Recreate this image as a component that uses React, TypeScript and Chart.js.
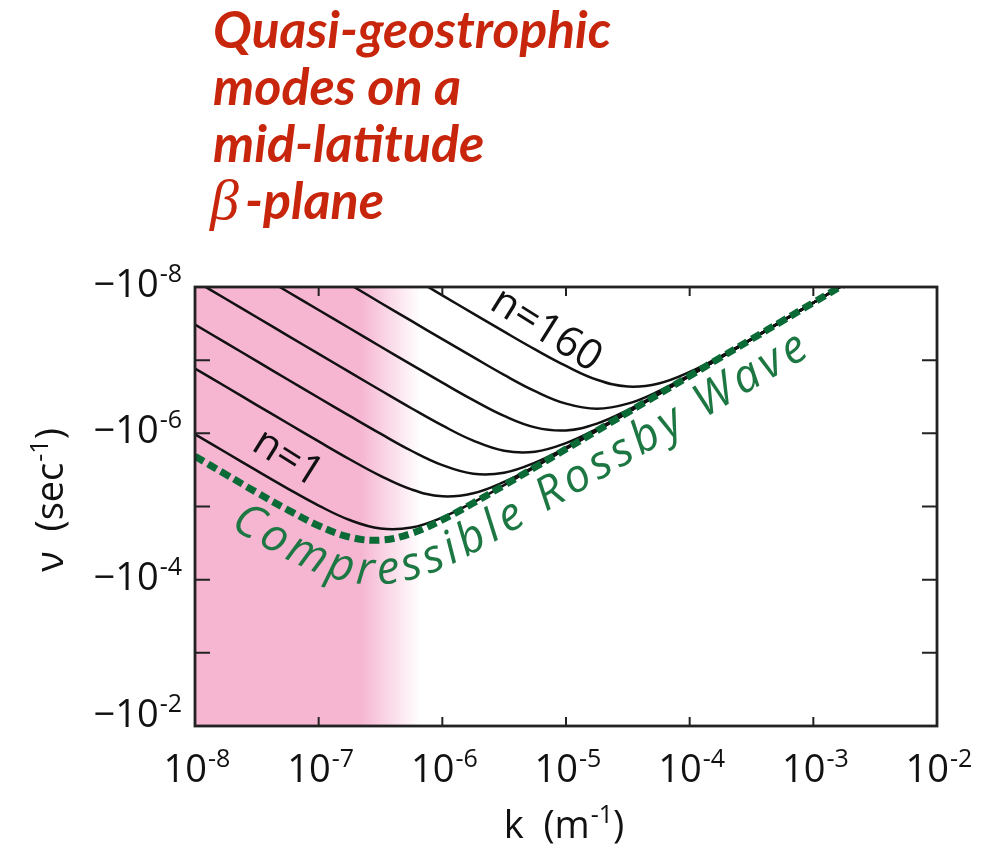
import React, { useEffect, useRef } from "react";
import { Chart, registerables } from "chart.js";

Chart.register(...registerables);

// Wavenumber grid (m^-1), quarter-decade steps
const kGrid = [
  1e-8, 1.78e-8, 3.16e-8, 5.62e-8, 1e-7, 1.78e-7, 3.16e-7, 5.62e-7, 1e-6, 1.78e-6, 3.16e-6, 5.62e-6,
  1e-5, 1.78e-5, 3.16e-5, 5.62e-5, 1e-4, 1.78e-4, 3.16e-4, 5.62e-4, 1e-3, 1.78e-3, 3.16e-3,
];

// |ν| (sec^-1) of the compressible Rossby wave
const rossbyNu = [
  2.06e-6, 3.65e-6, 6.44e-6, 1.11e-5, 1.83e-5, 2.62e-5, 2.88e-5, 2.33e-5, 1.52e-5, 8.97e-6, 5.13e-6, 2.9e-6,
  1.64e-6, 9.2e-7, 5.18e-7, 2.91e-7, 1.64e-7, 9.2e-8, 5.18e-8, 2.91e-8, 1.64e-8, 9.2e-9, 5.18e-9,
];

// |ν| of the quasi-geostrophic modes, n = 1 ... n = 160
const modeN1 = [
  1.03e-6, 1.83e-6, 3.24e-6, 5.69e-6, 9.71e-6, 1.53e-5, 2.0e-5, 1.94e-5, 1.41e-5, 8.77e-6, 5.1e-6, 2.9e-6,
  1.63e-6, 9.2e-7, 5.18e-7, 2.91e-7, 1.64e-7, 9.2e-8, 5.18e-8, 2.91e-8, 1.64e-8, 9.2e-9, 5.18e-9,
];
const mode2 = [
  1.3e-7, 2.31e-7, 4.11e-7, 7.29e-7, 1.29e-6, 2.26e-6, 3.81e-6, 5.84e-6, 7.25e-6, 6.58e-6, 4.6e-6, 2.8e-6,
  1.62e-6, 9.17e-7, 5.17e-7, 2.91e-7, 1.64e-7, 9.2e-8, 5.18e-8, 2.91e-8, 1.64e-8, 9.2e-9, 5.18e-9,
];
const mode3 = [
  3.27e-8, 5.81e-8, 1.03e-7, 1.84e-7, 3.26e-7, 5.77e-7, 1.01e-6, 1.73e-6, 2.72e-6, 3.56e-6, 3.45e-6, 2.51e-6,
  1.56e-6, 9.06e-7, 5.15e-7, 2.9e-7, 1.64e-7, 9.2e-8, 5.18e-8, 2.91e-8, 1.64e-8, 9.2e-9, 5.18e-9,
];
const mode4 = [
  8.2e-9, 1.46e-8, 2.59e-8, 4.61e-8, 8.2e-8, 1.46e-7, 2.58e-7, 4.54e-7, 7.81e-7, 1.26e-6, 1.73e-6, 1.78e-6,
  1.36e-6, 8.66e-7, 5.08e-7, 2.89e-7, 1.63e-7, 9.2e-8, 5.18e-8, 2.91e-8, 1.64e-8, 9.2e-9, 5.18e-9,
];
const mode5 = [
  2.06e-9, 3.66e-9, 6.52e-9, 1.16e-8, 2.06e-8, 3.66e-8, 6.51e-8, 1.15e-7, 2.03e-7, 3.52e-7, 5.79e-7, 8.29e-7,
  9.12e-7, 7.36e-7, 4.8e-7, 2.84e-7, 1.62e-7, 9.18e-8, 5.18e-8, 2.91e-8, 1.64e-8, 9.2e-9, 5.18e-9,
];
const mode6 = [
  5.18e-10, 9.2e-10, 1.64e-9, 2.91e-9, 5.18e-9, 9.2e-9, 1.64e-8, 2.91e-8, 5.16e-8, 9.11e-8, 1.59e-7, 2.65e-7,
  3.93e-7, 4.6e-7, 3.93e-7, 2.65e-7, 1.59e-7, 9.11e-8, 5.16e-8, 2.91e-8, 1.64e-8, 9.2e-9, 5.18e-9,
];
const modeN160 = [
  1.3e-10, 2.31e-10, 4.11e-10, 7.31e-10, 1.3e-9, 2.31e-9, 4.11e-9, 7.31e-9, 1.3e-8, 2.31e-8, 4.08e-8, 7.13e-8,
  1.2e-7, 1.85e-7, 2.29e-7, 2.08e-7, 1.45e-7, 8.85e-8, 5.11e-8, 2.9e-8, 1.64e-8, 9.2e-9, 5.18e-9,
];
const modeSeries = [modeN1, mode2, mode3, mode4, mode5, mode6, modeN160];

// Axis ticks
const kTicks = [1e-8, 1e-7, 1e-6, 1e-5, 1e-4, 1e-3, 1e-2];
const kTickPowers = ["-8", "-7", "-6", "-5", "-4", "-3", "-2"];
const nuTicks = [1e-8, 1e-7, 1e-6, 1e-5, 1e-4, 1e-3, 1e-2];
const nuLabelTicks = [1e-8, 1e-6, 1e-4, 1e-2];
const nuLabelPowers = ["-8", "-6", "-4", "-2"];

// Shaded long-wave band (solid up to the first k, fading out by the second)
const shadeSolidK = 2.2e-7;
const shadeFadeK = 6.6e-7;

const titleLines = ["Quasi-geostrophic", "modes on a", "mid-latitude"];
const RED = "#c8260c";
const GREEN_LINE = "#0b6b37";
const GREEN_TEXT = "#1d7743";
const PINK = [246, 182, 210];

const AXIS_FONT = "38px 'Open Sans'";
const SUP_FONT = "25px 'Open Sans'";

type Run = { text: string; sup?: boolean };

function drawRuns(ctx: CanvasRenderingContext2D, runs: Run[], x: number, y: number, align: "left" | "center" | "right") {
  const widths = runs.map((r) => {
    ctx.font = r.sup ? SUP_FONT : AXIS_FONT;
    return ctx.measureText(r.text).width + (r.sup ? 1 : 0);
  });
  const total = widths.reduce((a, b) => a + b, 0);
  let cx = align === "left" ? x : align === "center" ? x - total / 2 : x - total;
  ctx.textAlign = "left";
  ctx.textBaseline = "alphabetic";
  runs.forEach((r, i) => {
    ctx.font = r.sup ? SUP_FONT : AXIS_FONT;
    ctx.fillText(r.text, cx + (r.sup ? 1 : 0), r.sup ? y - 15 : y);
    cx += widths[i];
  });
}

type Pt = { x: number; y: number };

function sampleBezier(points: any[]): Pt[] {
  const out: Pt[] = [];
  for (let i = 0; i < points.length - 1; i++) {
    const p0 = points[i];
    const p1 = points[i + 1];
    const c1x = p0.cp2x ?? p0.x, c1y = p0.cp2y ?? p0.y;
    const c2x = p1.cp1x ?? p1.x, c2y = p1.cp1y ?? p1.y;
    for (let j = 0; j < 16; j++) {
      const t = j / 16, u = 1 - t;
      out.push({
        x: u * u * u * p0.x + 3 * u * u * t * c1x + 3 * u * t * t * c2x + t * t * t * p1.x,
        y: u * u * u * p0.y + 3 * u * u * t * c1y + 3 * u * t * t * c2y + t * t * t * p1.y,
      });
    }
  }
  const last = points[points.length - 1];
  out.push({ x: last.x, y: last.y });
  return out;
}

function drawTextOnPath(
  ctx: CanvasRenderingContext2D,
  path: Pt[],
  text: string,
  startX: number,
  endX: number,
  offset: number
) {
  const q: Pt[] = path.map((p, i) => {
    const a = path[Math.max(0, i - 1)];
    const b = path[Math.min(path.length - 1, i + 1)];
    let tx = b.x - a.x, ty = b.y - a.y;
    const L = Math.hypot(tx, ty) || 1;
    tx /= L; ty /= L;
    return { x: p.x - ty * offset, y: p.y + tx * offset };
  });
  const s: number[] = [0];
  for (let i = 1; i < q.length; i++) s.push(s[i - 1] + Math.hypot(q[i].x - q[i - 1].x, q[i].y - q[i - 1].y));
  const sAtX = (X: number) => {
    for (let i = 1; i < q.length; i++) {
      if (q[i - 1].x <= X && q[i].x >= X) {
        const f = (X - q[i - 1].x) / (q[i].x - q[i - 1].x || 1);
        return s[i - 1] + f * (s[i] - s[i - 1]);
      }
    }
    return 0;
  };
  const ptAt = (S: number): Pt => {
    for (let i = 1; i < q.length; i++) {
      if (s[i] >= S) {
        const f = (S - s[i - 1]) / (s[i] - s[i - 1] || 1);
        return { x: q[i - 1].x + f * (q[i].x - q[i - 1].x), y: q[i - 1].y + f * (q[i].y - q[i - 1].y) };
      }
    }
    return q[q.length - 1];
  };
  const s0 = sAtX(startX);
  const s1 = sAtX(endX);
  const chars = Array.from(text);
  const w = chars.map((c) => ctx.measureText(c).width);
  const natural = w.reduce((a, b) => a + b, 0);
  const gap = (s1 - s0 - natural) / (chars.length - 1);
  let pos = s0;
  ctx.textAlign = "center";
  ctx.textBaseline = "alphabetic";
  chars.forEach((c, i) => {
    const mid = pos + w[i] / 2;
    const p = ptAt(mid);
    const pa = ptAt(mid - Math.max(w[i], 12) / 2);
    const pb = ptAt(mid + Math.max(w[i], 12) / 2);
    const ang = Math.atan2(pb.y - pa.y, pb.x - pa.x);
    ctx.save();
    ctx.translate(p.x, p.y);
    ctx.rotate(ang);
    ctx.fillText(c, 0, 0);
    ctx.restore();
    pos += w[i] + gap;
  });
}

const shadePlugin = {
  id: "shade",
  beforeDatasetsDraw(chart: any) {
    const { ctx, chartArea: a, scales } = chart;
    const xs = scales.x;
    const solid = xs.getPixelForValue(shadeSolidK);
    const fade = xs.getPixelForValue(shadeFadeK);
    const g = ctx.createLinearGradient(a.left, 0, fade, 0);
    const [r, gg, b] = PINK;
    g.addColorStop(0, `rgb(${r},${gg},${b})`);
    g.addColorStop((solid - a.left) / (fade - a.left), `rgb(${r},${gg},${b})`);
    g.addColorStop(1, `rgba(${r},${gg},${b},0)`);
    ctx.save();
    ctx.fillStyle = g;
    ctx.fillRect(a.left, a.top, fade - a.left, a.bottom - a.top);
    ctx.restore();
  },
};

const decorPlugin = {
  id: "decor",
  afterDatasetsDraw(chart: any) {
    const { ctx, scales } = chart;
    const xs = scales.x, ys = scales.y;
    ctx.save();
    // curve labels
    ctx.fillStyle = "#111";
    ctx.font = "42px 'Open Sans'";
    ctx.textAlign = "center";
    ctx.textBaseline = "middle";
    const lbl = (t: string, k: number, nu: number, deg: number) => {
      ctx.save();
      ctx.translate(xs.getPixelForValue(k), ys.getPixelForValue(nu));
      ctx.rotate((deg * Math.PI) / 180);
      ctx.fillText(t, 0, 0);
      ctx.restore();
    };
    lbl("n=1", 5.6e-8, 2.2e-6, 32);
    lbl("n=160", 6.9e-6, 3.9e-8, 32);

    // text running beneath the Rossby-wave curve
    const meta = chart.getDatasetMeta(0);
    const path = sampleBezier(meta.data);
    ctx.fillStyle = GREEN_TEXT;
    ctx.font = "italic 46px 'Open Sans'";
    drawTextOnPath(ctx, path, "Compressible Rossby Wave", xs.getPixelForValue(1.9e-8), xs.getPixelForValue(9.5e-4), 44);
    ctx.restore();
  },
  afterDraw(chart: any) {
    const { ctx, chartArea: a, scales } = chart;
    const xs = scales.x, ys = scales.y;
    ctx.save();
    // frame and inward ticks
    ctx.strokeStyle = "#222";
    ctx.lineWidth = 2.8;
    ctx.strokeRect(a.left, a.top, a.right - a.left, a.bottom - a.top);
    ctx.lineWidth = 2;
    ctx.beginPath();
    kTicks.forEach((k) => {
      const x = xs.getPixelForValue(k);
      ctx.moveTo(x, a.bottom); ctx.lineTo(x, a.bottom - 9);
      ctx.moveTo(x, a.top); ctx.lineTo(x, a.top + 9);
    });
    nuTicks.forEach((v) => {
      const y = ys.getPixelForValue(v);
      ctx.moveTo(a.left, y); ctx.lineTo(a.left + 15, y);
      ctx.moveTo(a.right, y); ctx.lineTo(a.right - 15, y);
    });
    ctx.stroke();

    // tick labels
    ctx.fillStyle = "#111";
    kTicks.forEach((k, i) => {
      drawRuns(ctx, [{ text: "10" }, { text: kTickPowers[i], sup: true }], xs.getPixelForValue(k) + 2, a.bottom + 56, "center");
    });
    nuLabelTicks.forEach((v, i) => {
      const y = ys.getPixelForValue(v) + (i === nuLabelTicks.length - 1 ? 1 : 10);
      drawRuns(ctx, [{ text: "\u221210" }, { text: nuLabelPowers[i], sup: true }], a.left - 13, y, "right");
    });

    // axis titles
    drawRuns(ctx, [{ text: "k  (m" }, { text: "-1", sup: true }, { text: ")" }], (a.left + a.right) / 2 - 2, 838, "center");
    ctx.save();
    ctx.translate(63, 500);
    ctx.rotate(-Math.PI / 2);
    drawRuns(ctx, [{ text: "\u03bd  (sec" }, { text: "-1", sup: true }, { text: ")" }], 0, 0, "center");
    ctx.restore();

    // title
    ctx.fillStyle = RED;
    ctx.textAlign = "left";
    ctx.textBaseline = "alphabetic";
    ctx.font = "bold italic 52px Lato";
    const widths = [398, 254, 272];
    titleLines.forEach((t, i) => ctx.fillText(t, 213, 48 + i * 57, widths[i]));
    ctx.font = "italic 58px 'Liberation Serif'";
    ctx.fillText("\u03b2", 210, 219);
    ctx.font = "bold italic 52px Lato";
    ctx.fillText("-plane", 245, 219, 142);
    ctx.restore();
  },
};

export default function App() {
  const ref = useRef<HTMLCanvasElement>(null);
  useEffect(() => {
    const canvas = ref.current;
    if (!canvas) return;
    const toPts = (ys: number[]) => kGrid.map((k, i) => ({ x: k, y: ys[i] }));
    const datasets: any[] = [
      {
        data: toPts(rossbyNu),
        borderColor: GREEN_LINE,
        borderWidth: 7,
        borderDash: [10, 5],
        borderCapStyle: "butt",
        tension: 0.4,
        pointRadius: 0,
        clip: 0,
      },
      ...modeSeries.map((s) => ({
        data: toPts(s),
        borderColor: "#111",
        borderWidth: 2.5,
        tension: 0.4,
        pointRadius: 0,
        clip: 0,
      })),
    ];
    const chart = new Chart(canvas, {
      type: "line",
      data: { datasets },
      options: {
        responsive: false,
        animation: false,
        devicePixelRatio: 1,
        layout: { padding: { left: 195, right: 70, top: 287, bottom: 123 } },
        plugins: { legend: { display: false }, tooltip: { enabled: false }, title: { display: false } },
        scales: {
          x: { type: "logarithmic", min: 1e-8, max: 1e-2, display: false },
          y: { type: "logarithmic", min: 1e-8, max: 1e-2, reverse: true, display: false },
        },
      },
      plugins: [shadePlugin, decorPlugin],
    });
    return () => chart.destroy();
  }, []);
  return (
    <div style={{ position: "absolute", left: 0, top: 0, width: 1007, height: 849, background: "#fff" }}>
      <canvas ref={ref} width={1007} height={849} style={{ display: "block" }} />
    </div>
  );
}
